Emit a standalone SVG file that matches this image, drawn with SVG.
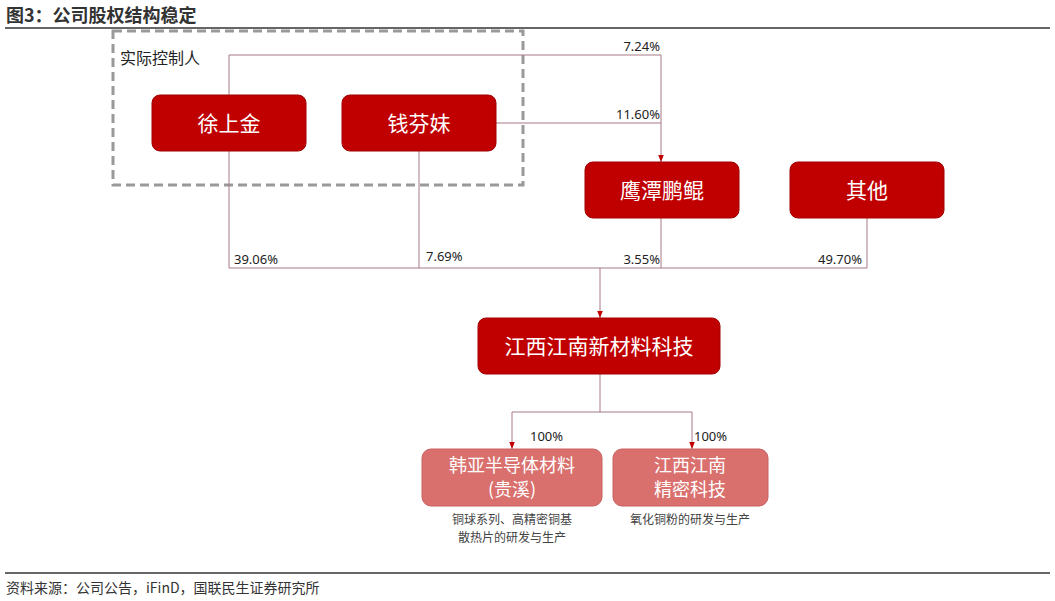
<svg xmlns="http://www.w3.org/2000/svg" width="1055" height="601" viewBox="0 0 1055 601">
<defs>
<style>
text{font-family:"Noto Sans CJK SC","Noto Sans",sans-serif}
.n{fill:#c00000;stroke:#a00000;stroke-width:1}
.s{fill:#d9706e;stroke:#c86060;stroke-width:1}
.nt{fill:#fff;font-size:21px;text-anchor:middle}
.st{fill:#fff;font-size:18px;text-anchor:middle}
.l{fill:none;stroke:#a87a84;stroke-width:1}
.p{font-size:13px;fill:#222;font-family:"Noto Sans","Liberation Sans",sans-serif}
.d{font-size:12px;fill:#444;text-anchor:middle}
</style>
<marker id="a" viewBox="0 0 10 10" refX="10" refY="5" markerWidth="7" markerHeight="7" orient="auto"><path d="M0,1L10,5L0,9z" fill="#c00000"/></marker>
</defs>
<rect width="1055" height="601" fill="#fff"/>
<text x="6" y="22" font-size="18" font-weight="bold" fill="#333">图3：公司股权结构稳定</text>
<line x1="5" y1="28" x2="1050" y2="28" stroke="#666" stroke-width="2"/>
<rect x="113" y="31" width="410" height="154" fill="none" stroke="#999" stroke-width="3" stroke-dasharray="9,5"/>
<text x="120" y="64" font-size="16" fill="#222">实际控制人</text>
<g id="connectors">
<path class="l" d="M229,95V55H661V162" marker-end="url(#a)"/>
<path class="l" d="M496,123H661"/>
<path class="l" d="M229,151V268H867V218"/>
<path class="l" d="M419,151V268"/>
<path class="l" d="M661,218V268"/>
<path class="l" d="M600,268V318" marker-end="url(#a)"/>
<path class="l" d="M600,374V412H692V449" marker-end="url(#a)"/>
<path class="l" d="M600,412H512V449" marker-end="url(#a)"/>
</g>
<text class="p" x="660" y="51" text-anchor="end">7.24%</text>
<text class="p" x="660" y="119" text-anchor="end">11.60%</text>
<text class="p" x="234" y="264">39.06%</text>
<text class="p" x="426" y="261">7.69%</text>
<text class="p" x="660" y="264" text-anchor="end">3.55%</text>
<text class="p" x="862" y="264" text-anchor="end">49.70%</text>
<text class="p" x="530" y="441">100%</text>
<text class="p" x="694" y="441">100%</text>
<g id="n1"><rect class="n" x="152" y="95" width="154" height="56" rx="8"/><text class="nt" x="229" y="131">徐上金</text></g>
<g id="n2"><rect class="n" x="342" y="95" width="154" height="56" rx="8"/><text class="nt" x="419" y="131">钱芬妹</text></g>
<g id="n3"><rect class="n" x="585" y="162" width="154" height="56" rx="8"/><text class="nt" x="662" y="198">鹰潭鹏鲲</text></g>
<g id="n4"><rect class="n" x="790" y="162" width="154" height="56" rx="8"/><text class="nt" x="867" y="198">其他</text></g>
<g id="n5"><rect class="n" x="478" y="318" width="242" height="56" rx="8"/><text class="nt" x="599" y="354">江西江南新材料科技</text></g>
<g id="n6"><rect class="s" x="422" y="449" width="180" height="57" rx="9"/><text class="st" x="512" y="472">韩亚半导体材料</text><text class="st" x="512" y="496">(贵溪)</text></g>
<g id="n7"><rect class="s" x="613" y="449" width="155" height="57" rx="9"/><text class="st" x="690" y="472">江西江南</text><text class="st" x="690" y="496">精密科技</text></g>
<text class="d" x="512" y="524">铜球系列、高精密铜基</text>
<text class="d" x="512" y="542">散热片的研发与生产</text>
<text class="d" x="690" y="524">氧化铜粉的研发与生产</text>
<line x1="5" y1="573" x2="1050" y2="573" stroke="#666" stroke-width="2"/>
<text x="6" y="593" font-size="14" fill="#333">资料来源：公司公告，iFinD，国联民生证券研究所</text>
</svg>
